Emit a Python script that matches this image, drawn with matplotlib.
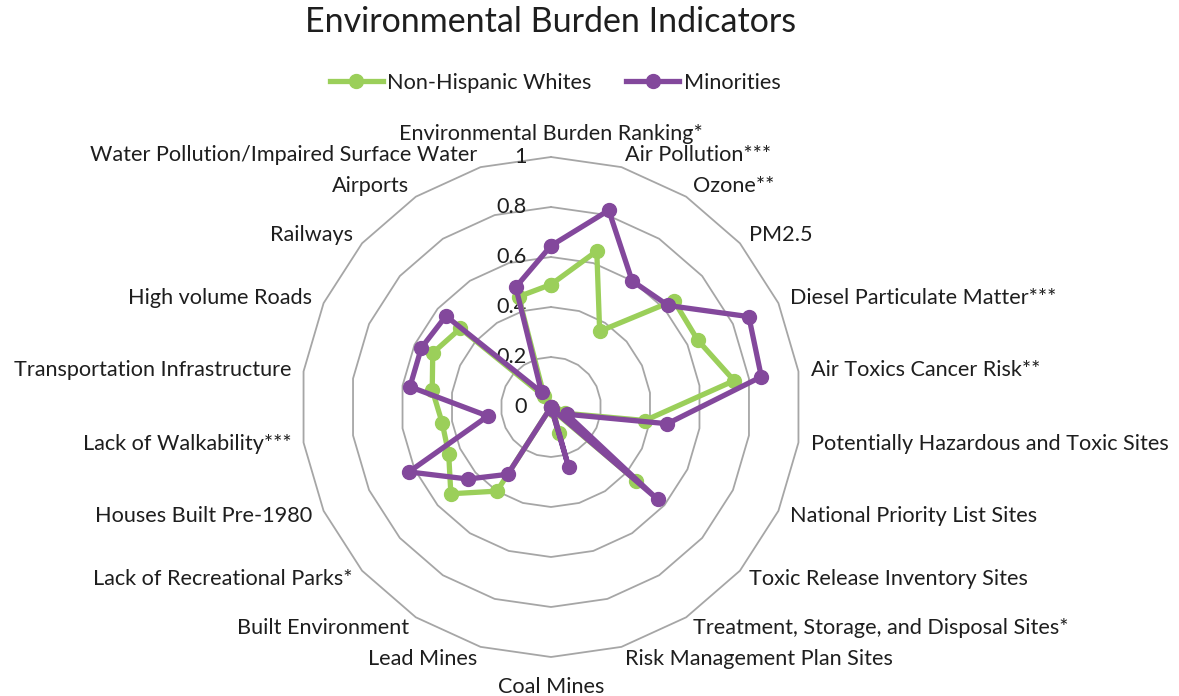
import numpy as np
import matplotlib
matplotlib.use("Agg")
import matplotlib.pyplot as plt

plt.rcParams['font.family'] = ['Lato', 'DejaVu Sans']

CATEGORIES = [
    "Environmental Burden Ranking*", "Air Pollution***", "Ozone**", "PM2.5",
    "Diesel Particulate Matter***", "Air Toxics Cancer Risk**",
    "Potentially Hazardous and Toxic Sites", "National Priority List Sites",
    "Toxic Release Inventory Sites", "Treatment, Storage, and Disposal Sites*",
    "Risk Management Plan Sites", "Coal Mines", "Lead Mines", "Built Environment",
    "Lack of Recreational Parks*", "Houses Built Pre-1980", "Lack of Walkability***",
    "Transportation Infrastructure", "High volume Roads", "Railways", "Airports",
    "Water Pollution/Impaired Surface Water",
]
WHITES = [0.49, 0.65, 0.36, 0.65, 0.645, 0.74, 0.38, 0.06, 0.45, 0.02, 0.11,
          0.0, 0.0, 0.40, 0.53, 0.45, 0.44, 0.48, 0.52, 0.48, 0.05, 0.46]
MINORITIES = [0.645, 0.82, 0.60, 0.62, 0.87, 0.85, 0.47, 0.07, 0.565, 0.01, 0.25,
              0.0, 0.0, 0.32, 0.44, 0.625, 0.255, 0.57, 0.57, 0.556, 0.07, 0.50]
RINGS = [0, 0.2, 0.4, 0.6, 0.8, 1]
RING_LABELS = ["0", "0.2", "0.4", "0.6", "0.8", "1"]

GREEN = "#9BCF5A"
PURPLE = "#83489C"
GRID = "#A6A6A6"
TEXT = "#1E1E1E"
FS = 15.6


def closed(vals):
    return list(vals) + [vals[0]]


def main():
    W, H = 1179, 696
    fig = plt.figure(figsize=(W / 100, H / 100), dpi=100)
    cx, cy, rad = 551, 407, 250
    ax = fig.add_axes([(cx - rad) / W, 1 - (cy + rad) / H, 2 * rad / W, 2 * rad / H],
                      projection="polar")
    ax.set_theta_zero_location("N")
    ax.set_theta_direction(-1)
    ax.set_ylim(0, 1)
    ax.set_xticks([])
    ax.set_yticks([])
    ax.grid(False)
    ax.spines["polar"].set_visible(False)
    ax.patch.set_alpha(0)

    n = len(CATEGORIES)
    theta = np.arange(n) * 2 * np.pi / n
    th = closed(theta)

    # polygon rings
    for r in RINGS[1:]:
        ax.plot(th, [r] * (n + 1), color=GRID, lw=1.3, zorder=1, clip_on=False)

    # ring labels (under the series)
    for r, lab in zip(RINGS, RING_LABELS):
        ax.annotate(lab, xy=(0, r), xytext=(-24, 0), textcoords="offset pixels",
                    ha="right", va="center", fontsize=FS, color=TEXT, zorder=2)

    # series
    ax.plot(th, closed(WHITES), color=GREEN, lw=3.8, marker="o", ms=10,
            label="Non-Hispanic Whites", zorder=3, clip_on=False)
    ax.plot(th, closed(MINORITIES), color=PURPLE, lw=3.8, marker="o", ms=10,
            label="Minorities", zorder=4, clip_on=False)

    # category labels
    for t, lab in zip(theta, CATEGORIES):
        s, c = np.sin(t), np.cos(t)
        ha = "center" if abs(s) < 0.01 else ("left" if s > 0 else "right")
        r_lab = 1.05
        if abs(s) < 0.01:
            va = "bottom" if c > 0 else "top"
            if c < 0:
                r_lab = 1.08
        else:
            va = "center"
        ax.text(t, r_lab, lab, ha=ha, va=va, fontsize=FS, color=TEXT)

    fig.text(cx / W, 1 - 22 / H, "Environmental Burden Indicators",
             ha="center", va="center", fontsize=24.5, color=TEXT)

    fig.legend(loc="center", bbox_to_anchor=(555 / W, 1 - 83 / H), ncol=2,
               frameon=False, fontsize=FS, handlelength=2.45, handletextpad=0.2,
               columnspacing=1.6, labelcolor=TEXT)

    fig.savefig("out.png", dpi=100)


if __name__ == "__main__":
    main()
